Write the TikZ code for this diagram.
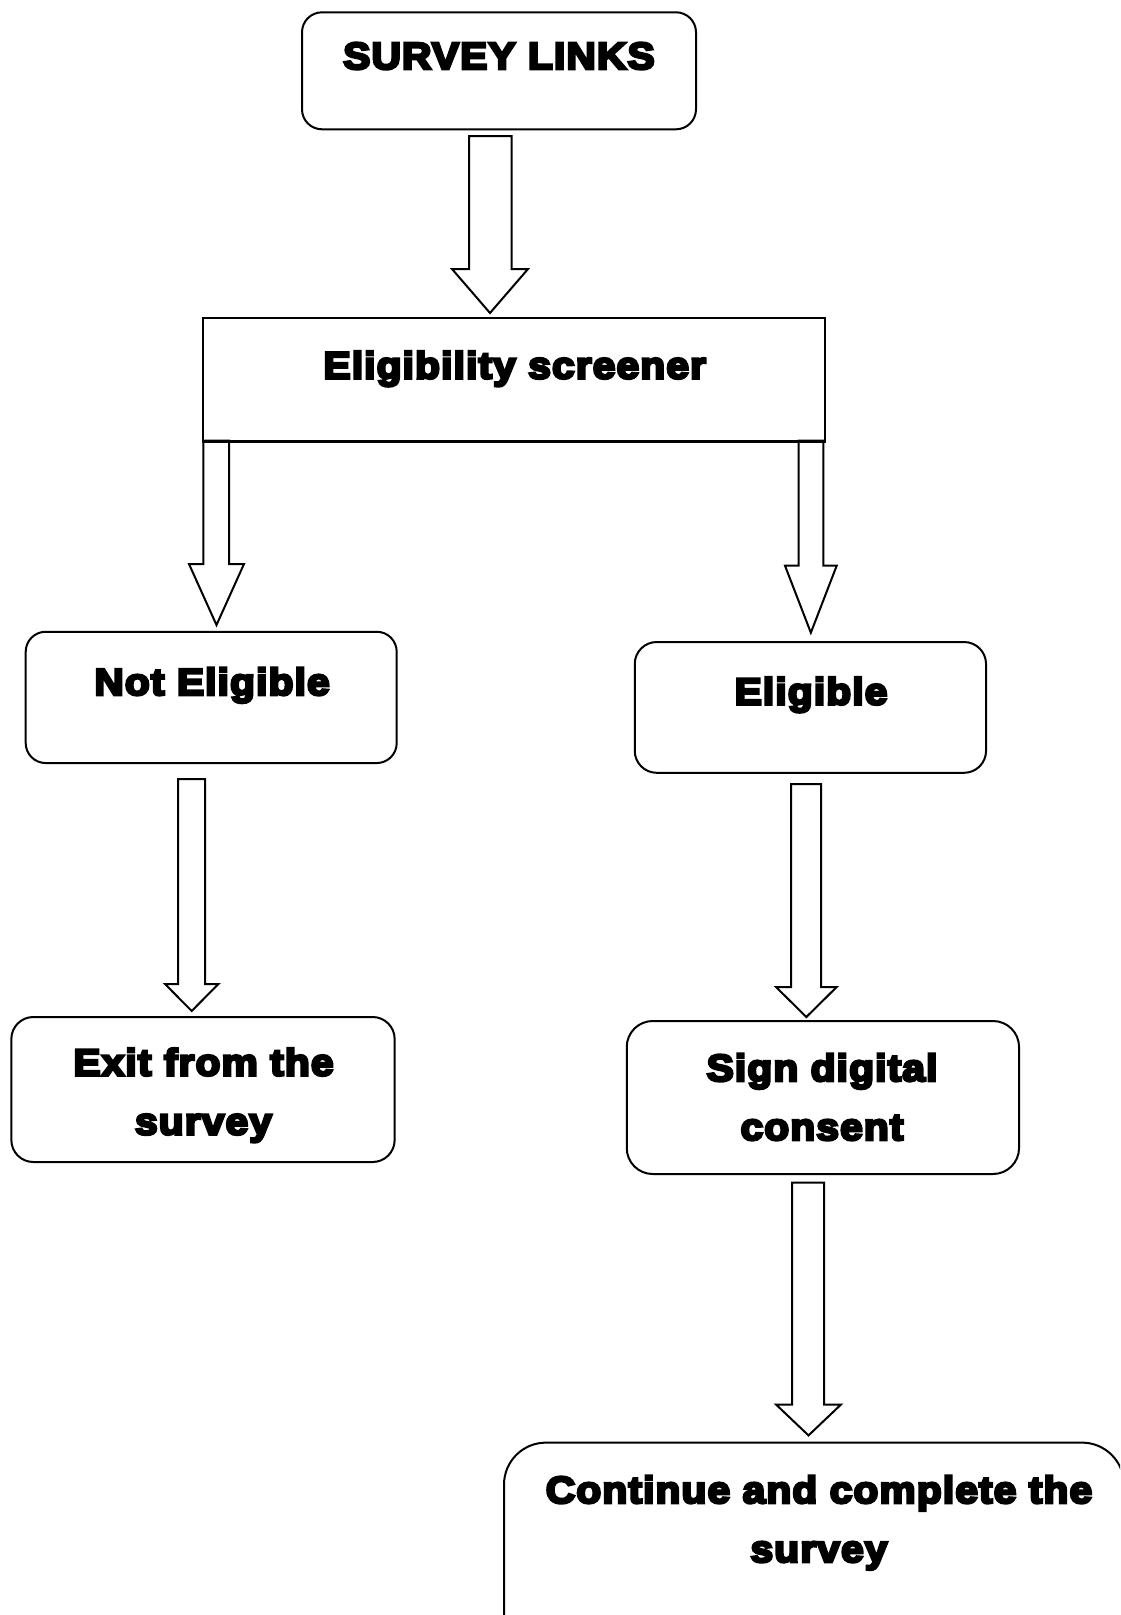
\documentclass[tikz,border=0pt]{standalone}
\usepackage{fontspec}
\setmainfont{Liberation Sans}[BoldFeatures={FakeStretch=1.08,FakeBold=7,LetterSpace=3}]
\begin{document}
\begin{tikzpicture}[x=1pt,y=-1pt,
  box/.style={draw=black,line width=2pt,fill=white,inner sep=0pt},
  rbox/.style={box,rounded corners=#1},
  txt/.style={font=\fontsize{37.7}{59}\selectfont\bfseries,align=center,inner sep=0pt,anchor=base},
  blk/.style={draw=black,line width=2pt,fill=white,line join=miter}]
\useasboundingbox (0,0) rectangle (1120,1615);
\clip (0,0) rectangle (1120,1615);
\fill[white] (0,0) rectangle (1120,1615);
% boxes
\node[rbox=20pt,minimum width=394pt,minimum height=117pt] (sl) at (499,70.8) {};
\node[box,minimum width=621.7pt,minimum height=122.7pt] (es) at (514.2,379.4) {};
\node[rbox=20pt,minimum width=371pt,minimum height=131.3pt] (ne) at (211.2,697.4) {};
\node[rbox=22pt,minimum width=351.3pt,minimum height=130.8pt] (el) at (810.4,707.4) {};
\node[rbox=22pt,minimum width=383.3pt,minimum height=145pt] (ex) at (203,1089.5) {};
\node[rbox=26pt,minimum width=392.3pt,minimum height=153pt] (sg) at (822.9,1097.5) {};
\node[rbox=42pt,minimum width=620pt,minimum height=220pt] (cn) at (814,1552.6) {};
% block arrows: shaft left, shaft right, top, head start, head left, head right, tip
\newcommand\blockarrow[7]{%
  \draw[blk] (#1,#3) -- (#1,#4) -- (#5,#4) -- ({(#5+#6)/2},#7) -- (#6,#4) -- (#2,#4) -- (#2,#3) -- cycle;}
\blockarrow{469}{511.7}{136}{269}{452}{528}{313}
\blockarrow{203.3}{229}{440.7}{564}{189}{244}{625}
\blockarrow{798.5}{823.3}{440.7}{565.7}{785}{836.7}{632.7}
\blockarrow{178}{205}{779}{984}{165}{218.4}{1011}
\blockarrow{791}{821}{784}{987}{776}{836.7}{1017}
\blockarrow{792}{824}{1182.7}{1404.5}{776}{841}{1435.4}
% redraw the screener box bottom edge over arrow tops
\draw[line width=2pt] (es.south west) -- (es.south east);
% texts
\node[txt] (tsl) at (499,69) {SURVEY LINKS};
\node[txt] (tes) at (514.7,378.5) {Eligibility screener};
\node[txt] (tne) at (212,695) {Not Eligible};
\node[txt] (tel) at (811,704.5) {Eligible};
\node[txt] (tex) at (203.5,1134.5) {Exit from the\\survey};
\node[txt] (tsg) at (822,1140) {Sign digital\\consent};
\node[txt] (tcn) at (819,1562) {Continue and complete the\\survey};
\end{tikzpicture}
\end{document}
